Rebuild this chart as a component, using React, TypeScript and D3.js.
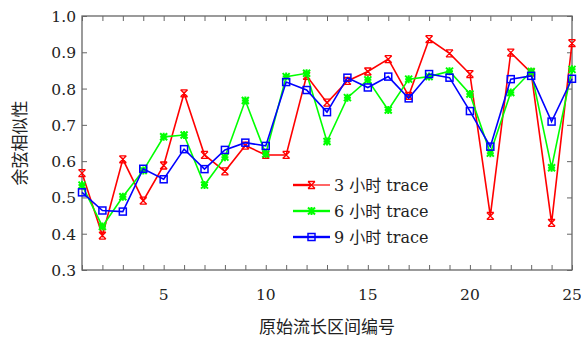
import React, { useEffect, useRef } from 'react';
import * as d3 from 'd3';

const intervals = d3.range(1, 26);
const trace3h = [0.567, 0.395, 0.605, 0.491, 0.588, 0.787, 0.617, 0.572, 0.643, 0.617, 0.617, 0.835, 0.761, 0.821, 0.847, 0.881, 0.78, 0.936, 0.897, 0.84, 0.449, 0.899, 0.844, 0.43, 0.925];
const trace6h = [0.534, 0.42, 0.502, 0.574, 0.667, 0.672, 0.534, 0.611, 0.767, 0.62, 0.833, 0.842, 0.654, 0.775, 0.824, 0.741, 0.826, 0.833, 0.848, 0.785, 0.622, 0.789, 0.847, 0.582, 0.853];
const trace9h = [0.514, 0.464, 0.461, 0.579, 0.55, 0.633, 0.578, 0.631, 0.651, 0.642, 0.818, 0.796, 0.735, 0.83, 0.803, 0.833, 0.773, 0.84, 0.83, 0.738, 0.64, 0.826, 0.835, 0.709, 0.827];
const seriesNames = ['3 小时 trace', '6 小时 trace', '9 小时 trace'];
const seriesColors = ['#ff0000', '#00ff00', '#0000ff'];
const xTickLabels = [5, 10, 15, 20, 25];
const yTickLabels = [0.3, 0.4, 0.5, 0.6, 0.7, 0.8, 0.9, 1.0];

const W = 581;
const H = 341;
const margin = { top: 16, right: 9, bottom: 71, left: 82 };
const font = "'DejaVu Serif', 'Noto Sans CJK SC', serif";
const fs = 15.5;

export default function App() {
  const ref = useRef<SVGSVGElement>(null);

  useEffect(() => {
    const svg = d3.select(ref.current);
    svg.selectAll('*').remove();
    const x = d3.scaleLinear().domain([1, 25]).range([margin.left, W - margin.right]);
    const y = d3.scaleLinear().domain([0.3, 1.0]).range([H - margin.bottom, margin.top]);
    const axisColor = '#666';

    // frame
    svg.append('rect')
      .attr('x', x(1)).attr('y', y(1))
      .attr('width', x(25) - x(1)).attr('height', y(0.3) - y(1))
      .attr('fill', 'none').attr('stroke', axisColor).attr('stroke-width', 1.3);

    // ticks point inward on all four sides
    const bottom = svg.append('g').attr('transform', `translate(0,${y(0.3)})`)
      .call(d3.axisBottom(x).tickValues(intervals).tickSize(-5).tickFormat(() => ''));
    const top = svg.append('g').attr('transform', `translate(0,${y(1)})`)
      .call(d3.axisTop(x).tickValues(intervals).tickSize(-5).tickFormat(() => ''));
    const left = svg.append('g').attr('transform', `translate(${x(1)},0)`)
      .call(d3.axisLeft(y).tickValues(yTickLabels).tickSize(-5).tickFormat(() => ''));
    const right = svg.append('g').attr('transform', `translate(${x(25)},0)`)
      .call(d3.axisRight(y).tickValues(yTickLabels).tickSize(-5).tickFormat(() => ''));
    [bottom, top, left, right].forEach(g => {
      g.select('.domain').remove();
      g.selectAll('line').attr('stroke', axisColor).attr('stroke-width', 1);
    });

    // tick labels
    svg.append('g').selectAll('text').data(xTickLabels).join('text')
      .attr('x', d => x(d)).attr('y', y(0.3) + 30)
      .attr('text-anchor', 'middle')
      .attr('font-family', font).attr('font-size', fs).attr('fill', '#222')
      .text(d => d);
    svg.append('g').selectAll('text').data(yTickLabels).join('text')
      .attr('x', x(1) - 6).attr('y', d => y(d) + 6)
      .attr('text-anchor', 'end')
      .attr('font-family', font).attr('font-size', fs).attr('fill', '#222')
      .text(d => d.toFixed(1));

    // axis titles
    svg.append('text')
      .attr('x', (x(1) + x(25)) / 2).attr('y', 333)
      .attr('text-anchor', 'middle')
      .attr('font-family', font).attr('font-size', 17).attr('fill', '#222')
      .text('原始流长区间编号');
    svg.append('text')
      .attr('transform', `translate(26,${(y(0.3) + y(1)) / 2}) rotate(-90)`)
      .attr('text-anchor', 'middle')
      .attr('font-family', font).attr('font-size', 17).attr('fill', '#222')
      .text('余弦相似性');

    const drawMarker = (g: any, i: number, cx: number, cy: number) => {
      const c = seriesColors[i];
      if (i === 0) {
        const s = 3.5;
        g.append('path')
          .attr('d', `M${cx - s},${cy - s}L${cx + s},${cy + s}M${cx - s},${cy + s}L${cx + s},${cy - s}M${cx - s},${cy - s}L${cx + s},${cy - s}M${cx - s},${cy + s}L${cx + s},${cy + s}`)
          .attr('stroke', c).attr('stroke-width', 1.3).attr('fill', 'none');
      } else if (i === 1) {
        const s = 3.5;
        g.append('path')
          .attr('d', `M${cx - s},${cy - s}L${cx + s},${cy + s}M${cx - s},${cy + s}L${cx + s},${cy - s}M${cx},${cy - s - 0.5}L${cx},${cy + s + 0.5}M${cx - s},${cy}L${cx + s},${cy}`)
          .attr('stroke', c).attr('stroke-width', 2).attr('fill', 'none');
      } else {
        g.append('rect')
          .attr('x', cx - 3.5).attr('y', cy - 3.5).attr('width', 7).attr('height', 7)
          .attr('fill', 'none').attr('stroke', c).attr('stroke-width', 1.5);
      }
    };

    const line = d3.line<number>().x((_, j) => x(intervals[j])).y(d => y(d));
    [trace3h, trace6h, trace9h].forEach((vals, i) => {
      const g = svg.append('g');
      g.append('path').datum(vals)
        .attr('d', line)
        .attr('fill', 'none').attr('stroke', seriesColors[i]).attr('stroke-width', 1.6);
      vals.forEach((v, j) => drawMarker(g, i, x(intervals[j]), y(v)));
    });

    // legend
    const lg = svg.append('g');
    seriesNames.forEach((name, i) => {
      const ly = 185 + i * 26;
      lg.append('line')
        .attr('x1', 293).attr('x2', 311).attr('y1', ly).attr('y2', ly)
        .attr('stroke', seriesColors[i]).attr('stroke-width', 2.4);
      lg.append('line')
        .attr('x1', 311).attr('x2', 330).attr('y1', ly).attr('y2', ly)
        .attr('stroke', seriesColors[i]).attr('stroke-width', i === 0 ? 1.2 : 2.4);
      drawMarker(lg, i, 311.5, ly);
      lg.append('text')
        .attr('x', 334).attr('y', ly + 6)
        .attr('font-family', font).attr('font-size', 16).attr('fill', '#222')
        .text(name);
    });
  }, []);

  return (
    <svg ref={ref} width={W} height={H}
      style={{ position: 'absolute', left: 0, top: 0, background: '#fff' }} />
  );
}
